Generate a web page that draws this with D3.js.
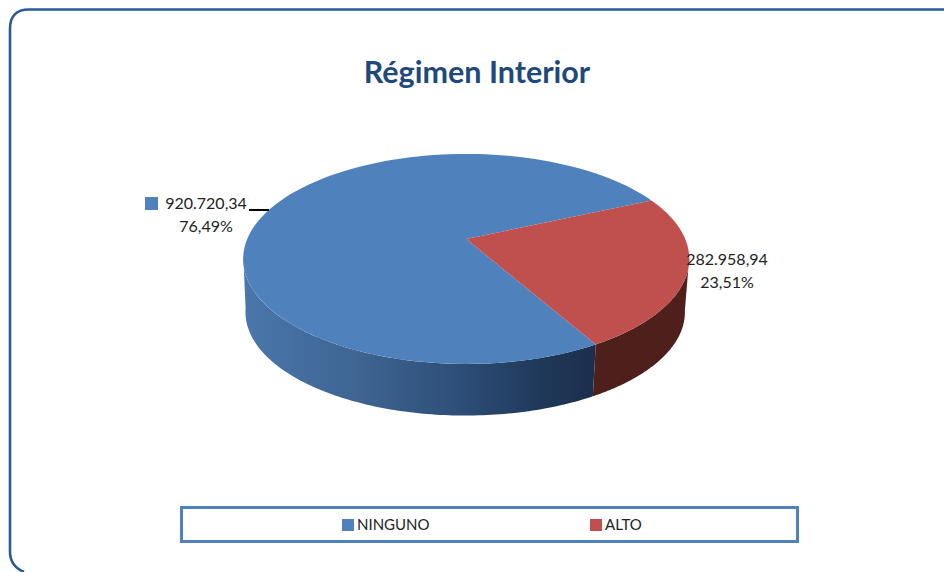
<!DOCTYPE html>
<html><head><meta charset="utf-8">
<script src="https://cdnjs.cloudflare.com/ajax/libs/d3/7.8.5/d3.min.js"></script>
<style>html,body{margin:0;padding:0;background:#fff}svg{display:block}text{font-family:Lato,"Open Sans",sans-serif}</style>
</head><body><svg id="c" width="944" height="572"></svg>
<script>
const chartTitle = "Régimen Interior";
const categories = ["NINGUNO", "ALTO"];
const values = [920720.34, 282958.94];
const valueLabels = ["920.720,34", "282.958,94"];
const percentLabels = ["76,49%", "23,51%"];
const topColors = ["#4f81bd", "#c0504d"];

const svg = d3.select("#c");
const deg = Math.PI / 180;

// frame
svg.append("path")
  .attr("d", "M950,9.5 H29 Q10,9.5 10,29 V552 Q10,566 24,572")
  .attr("fill", "none").attr("stroke", "#2a5b96").attr("stroke-width", 2.6);

svg.append("text").attr("x", 477).attr("y", 83).attr("text-anchor", "middle")
  .attr("font-size", 30.5).attr("font-weight", 700).attr("fill", "#1f497d").text(chartTitle);

// perspective projection of the pie disc
const cx = 466.2, cy = 239, bx = 219, by = 101.2, p = 0.19, depth = 53.5, shrink = 0.985;
function proj(angle, level) {
  const X = Math.sin(angle), Y = Math.cos(angle), w = 1 + p * Y;
  const s = level ? shrink : 1, d = level ? depth : 0;
  return [cx - (level ? 1 : 0) + s * bx * X / w, cy + d - s * by * Y / w];
}
const arcs = d3.pie().sort(null).startAngle(150.4 * deg).endAngle((150.4 + 360) * deg)(values);
const line = d3.line();
const sweep = (a0, a1, level) => d3.range(0, 121).map(i => proj(a0 + (a1 - a0) * i / 120, level));

const defs = svg.append("defs");
const grad = defs.append("linearGradient").attr("id", "wall").attr("gradientUnits", "userSpaceOnUse")
  .attr("x1", 245).attr("x2", 596).attr("y1", 0).attr("y2", 0);
[[0, "#4a76ab"], [0.3, "#3f6694"], [0.6, "#2e4f79"], [0.85, "#1f3859"], [1, "#1b2f4c"]]
  .forEach(s => grad.append("stop").attr("offset", s[0]).attr("stop-color", s[1]));

// walls
const wallRanges = [[arcs[0].startAngle, 261 * deg], [arcs[1].endAngle - 50.4 * deg, arcs[1].endAngle]];
const wallFills = ["url(#wall)", "#4e1f1b"];
wallRanges.forEach((r, i) => {
  svg.append("path")
    .attr("d", line(sweep(r[0], r[1], 0).concat(sweep(r[1], r[0], 1))) + "Z")
    .attr("fill", wallFills[i]);
});
// top faces
arcs.forEach((a, i) => {
  svg.append("path")
    .attr("d", line([[cx, cy]].concat(sweep(a.startAngle, a.endAngle, 0))) + "Z")
    .attr("fill", topColors[i]);
});

// data labels
const labelPos = [{x: 206, y1: 209, y2: 232}, {x: 727, y1: 265, y2: 288}];
categories.forEach((c, i) => {
  const g = svg.append("g").attr("font-size", 16).attr("fill", "#222").attr("text-anchor", "middle");
  g.append("text").attr("x", labelPos[i].x).attr("y", labelPos[i].y1).text(valueLabels[i]);
  g.append("text").attr("x", labelPos[i].x).attr("y", labelPos[i].y2).text(percentLabels[i]);
});
svg.append("rect").attr("x", 145).attr("y", 197).attr("width", 13).attr("height", 13).attr("fill", topColors[0]);
svg.append("line").attr("x1", 249).attr("x2", 269).attr("y1", 210).attr("y2", 210).attr("stroke", "#000").attr("stroke-width", 2);

// legend
svg.append("rect").attr("x", 181.5).attr("y", 507.5).attr("width", 616).attr("height", 34)
  .attr("fill", "#fff").attr("stroke", "#4f81bd").attr("stroke-width", 3);
const legendX = [342, 590];
categories.forEach((c, i) => {
  svg.append("rect").attr("x", legendX[i]).attr("y", 519).attr("width", 12).attr("height", 12).attr("fill", topColors[i]);
  svg.append("text").attr("x", legendX[i] + 15).attr("y", 530).attr("font-size", 15).attr("fill", "#222").text(c);
});
</script></body></html>
